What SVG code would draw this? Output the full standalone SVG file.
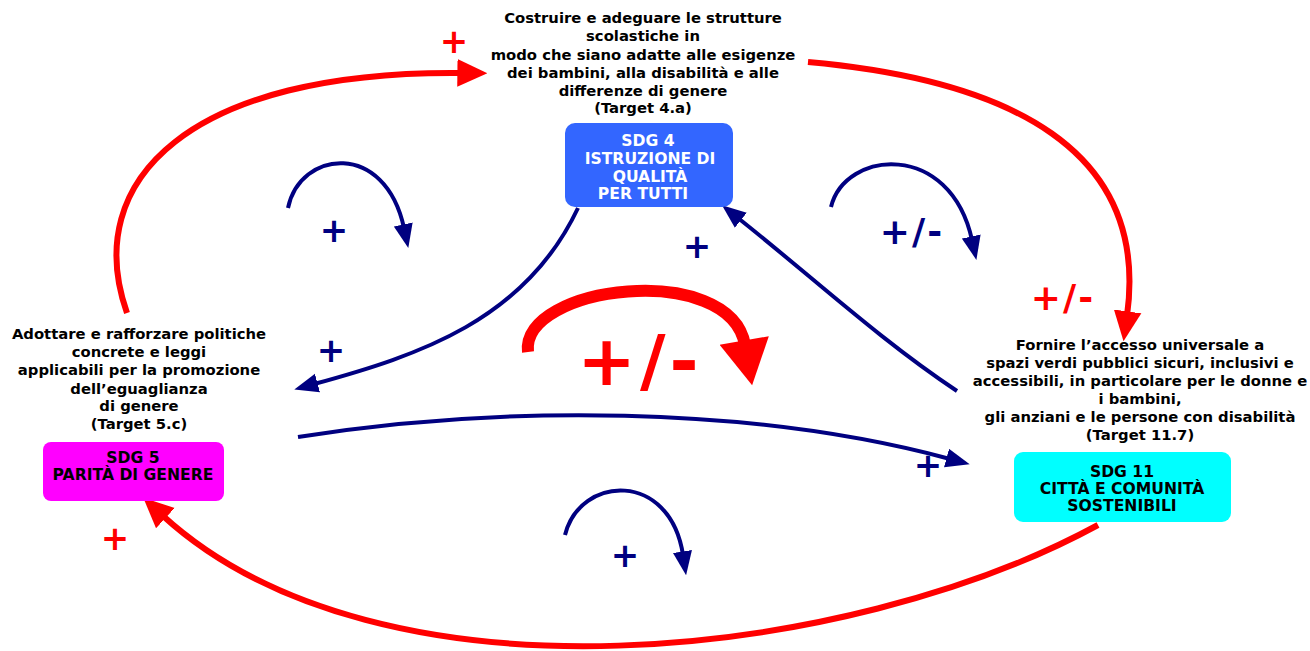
<svg xmlns="http://www.w3.org/2000/svg" width="1310" height="651" viewBox="0 0 1310 651">
<style>
.t{font-family:"DejaVu Sans","Verdana",sans-serif;font-weight:bold;font-size:14.8px;fill:#000;text-anchor:middle}
.bt{font-family:"DejaVu Sans","Verdana",sans-serif;font-weight:bold;font-size:15.6px;text-anchor:middle}
.red{fill:none;stroke:#ff0000;stroke-width:6}
.blue{fill:none;stroke:#000080;stroke-width:4}
.lbl{font-family:"DejaVu Sans","Verdana",sans-serif;font-weight:bold;text-anchor:middle}
</style>
<defs>
<marker id="ar" markerUnits="userSpaceOnUse" markerWidth="30" markerHeight="30" viewBox="0 0 26 24" refX="4" refY="12" orient="auto"><path d="M0,0 L26,12 L0,24 Z" fill="#ff0000"/></marker>
<marker id="ab" markerUnits="userSpaceOnUse" markerWidth="24" markerHeight="20" viewBox="0 0 20 16" refX="3" refY="8" orient="auto"><path d="M0,0 L20,8 L0,16 Z" fill="#000080"/></marker>
<marker id="abig" markerUnits="userSpaceOnUse" markerWidth="50" markerHeight="50" viewBox="0 0 40 44" refX="4" refY="22" orient="auto"><path d="M0,0 L40,22 L0,44 Z" fill="#ff0000"/></marker>
</defs>
<g id="connectors">
<path class="red" d="M127,313 C80,180 190,70 462,73" marker-end="url(#ar)"/>
<path class="red" d="M808,62 C1010,80 1150,150 1127,316" marker-end="url(#ar)"/>
<path class="red" d="M1098,525 C850,660 380,715 162,515" marker-end="url(#ar)"/>
<path fill="none" stroke="#ff0000" stroke-width="12" d="M528,352 C520,285 730,260 745,345" marker-end="url(#abig)"/>
<path class="blue" d="M288,208 C300,150 385,140 404,228" marker-end="url(#ab)"/>
<path class="blue" d="M831,207 C845,150 950,140 972,240" marker-end="url(#ab)"/>
<path class="blue" d="M565,535 C580,475 670,470 683,555" marker-end="url(#ab)"/>
<path class="blue" d="M578,208 C525,320 420,355 314,384" marker-end="url(#ab)"/>
<path class="blue" d="M957,391 C880,340 810,275 738,218" marker-end="url(#ab)"/>
<path class="blue" d="M298,437 C500,405 750,405 950,459" marker-end="url(#ab)"/>
</g>
<g id="labels">
<text class="lbl" x="454" y="53" font-size="34" fill="#ff0000">+</text>
<text class="lbl" x="115" y="550" font-size="34" fill="#ff0000">+</text>
<text class="lbl" x="1063" y="310" font-size="36" fill="#ff0000" letter-spacing="2">+/-</text>
<text class="lbl" x="640" y="385" font-size="70" fill="#ff0000" letter-spacing="4">+/-</text>
<text class="lbl" x="334" y="242" font-size="34" fill="#000080">+</text>
<text class="lbl" x="331" y="362" font-size="34" fill="#000080">+</text>
<text class="lbl" x="697" y="258" font-size="34" fill="#000080">+</text>
<text class="lbl" x="928" y="477" font-size="34" fill="#000080">+</text>
<text class="lbl" x="625" y="567" font-size="34" fill="#000080">+</text>
<text class="lbl" x="912" y="244" font-size="36" fill="#000080" letter-spacing="2">+/-</text>
</g>
<g id="sdg4">
<text class="t"><tspan x="643" y="23">Costruire e adeguare le strutture</tspan><tspan x="643" y="41">scolastiche in</tspan><tspan x="643" y="60">modo che siano adatte alle esigenze</tspan><tspan x="643" y="78">dei bambini, alla disabilità e alle</tspan><tspan x="643" y="96">differenze di genere</tspan><tspan x="643" y="113">(Target 4.a)</tspan></text>
<rect x="565" y="123" width="168" height="84" rx="10" fill="#3366ff"/>
<text class="bt" fill="#fff"><tspan x="648" y="146">SDG 4</tspan><tspan x="650" y="164">ISTRUZIONE DI</tspan><tspan x="650" y="182">QUALITÀ</tspan><tspan x="643" y="199">PER TUTTI</tspan></text>
</g>
<g id="sdg5">
<text class="t"><tspan x="139" y="339">Adottare e rafforzare politiche</tspan><tspan x="139" y="357">concrete e leggi</tspan><tspan x="139" y="375">applicabili per la promozione</tspan><tspan x="139" y="394">dell’eguaglianza</tspan><tspan x="139" y="411">di genere</tspan><tspan x="139" y="429">(Target 5.c)</tspan></text>
<rect x="43" y="442" width="181" height="59" rx="8" fill="#ff00ff"/>
<text class="bt" fill="#000"><tspan x="133" y="463">SDG 5</tspan><tspan x="133" y="480">PARITÀ DI GENERE</tspan></text>
</g>
<g id="sdg11">
<text class="t"><tspan x="1140" y="350">Fornire l’accesso universale a</tspan><tspan x="1140" y="368">spazi verdi pubblici sicuri, inclusivi e</tspan><tspan x="1140" y="386">accessibili, in particolare per le donne e</tspan><tspan x="1140" y="404">i bambini,</tspan><tspan x="1140" y="422">gli anziani e le persone con disabilità</tspan><tspan x="1140" y="440">(Target 11.7)</tspan></text>
<rect x="1014" y="452" width="217" height="70" rx="9" fill="#00ffff"/>
<text class="bt" fill="#000"><tspan x="1122" y="477">SDG 11</tspan><tspan x="1122" y="494">CITTÀ E COMUNITÀ</tspan><tspan x="1122" y="511">SOSTENIBILI</tspan></text>
</g>
</svg>
